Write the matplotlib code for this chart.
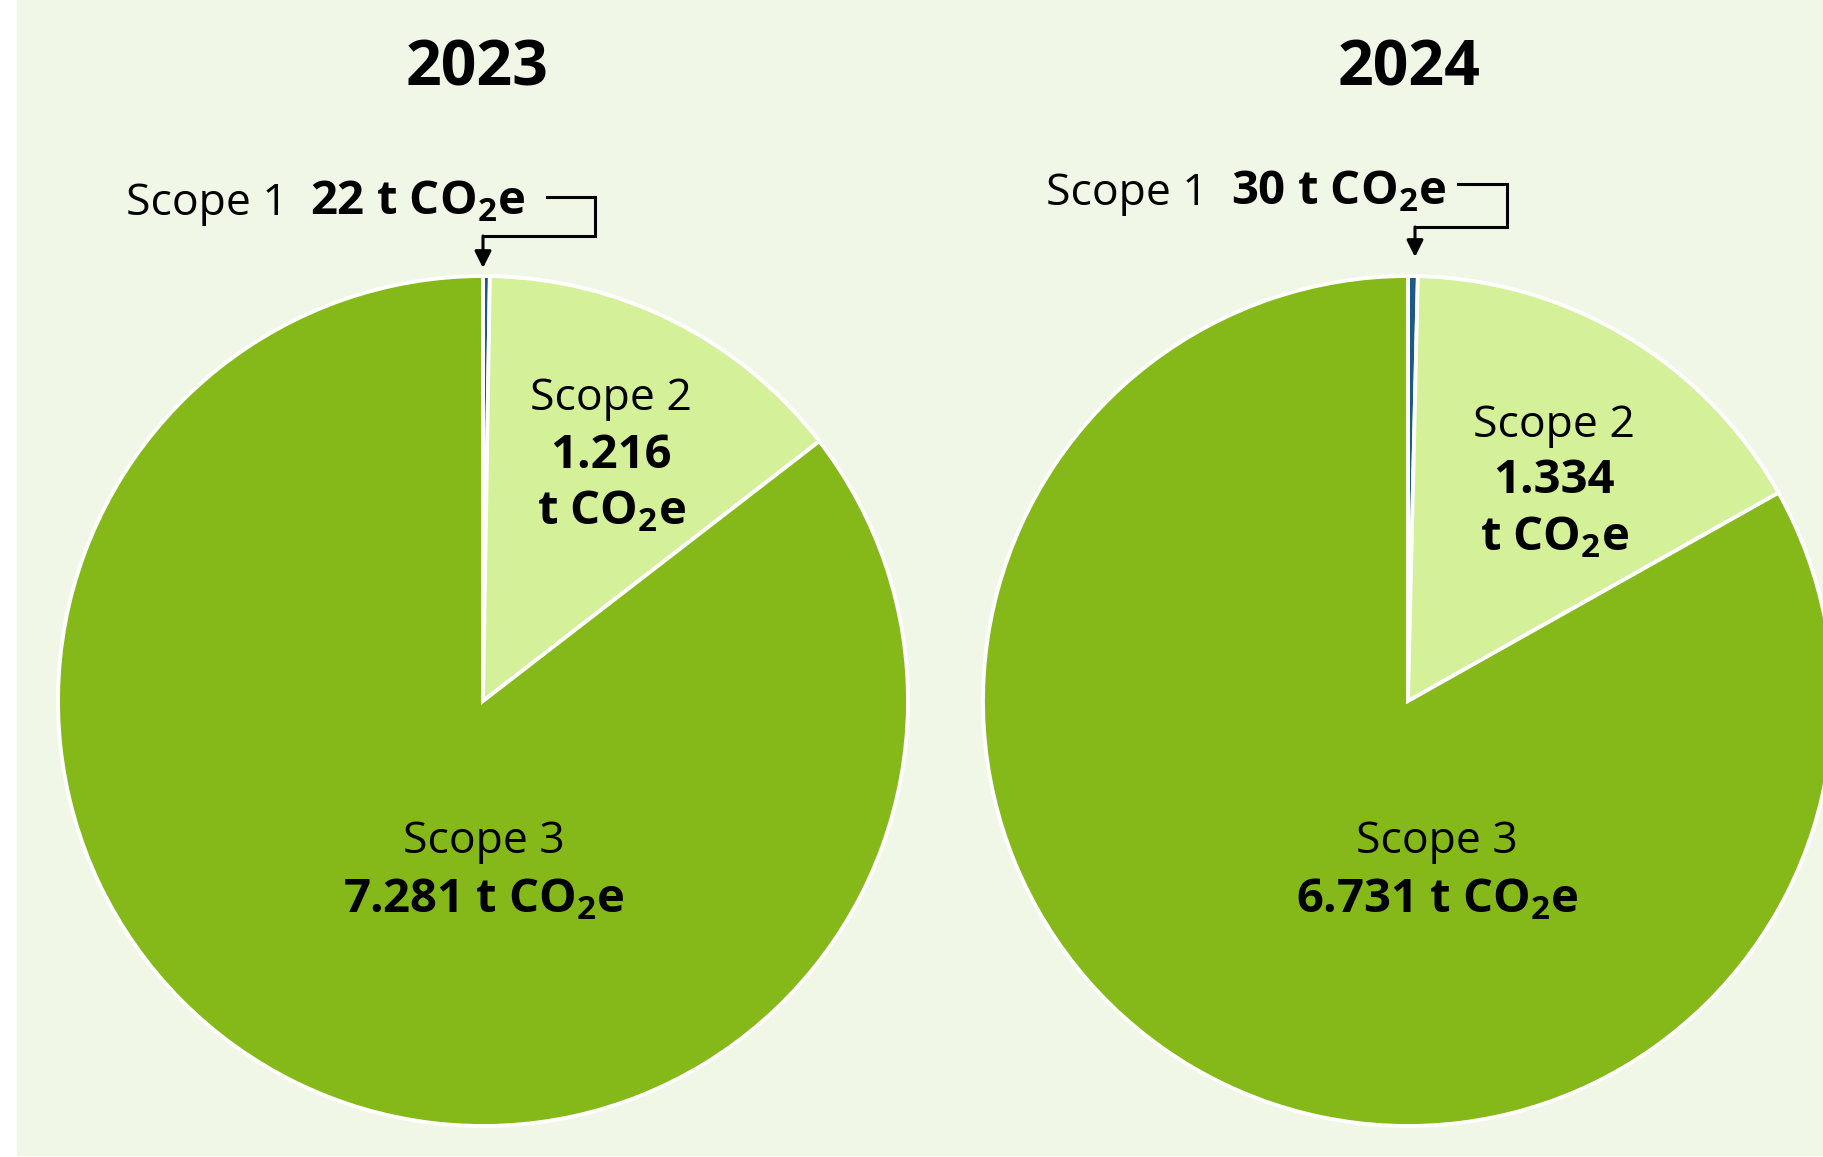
import numpy as np
import matplotlib
matplotlib.use('Agg')
import matplotlib.pyplot as plt
from matplotlib.patches import Rectangle

plt.rcParams['font.family'] = ['Open Sans', 'DejaVu Sans']
plt.rcParams['mathtext.fontset'] = 'custom'
plt.rcParams['mathtext.rm'] = 'Open Sans'
plt.rcParams['mathtext.bf'] = 'Open Sans:bold'

# data
years = ['2023', '2024']
scopes = ['Scope 1', 'Scope 2', 'Scope 3']
values_2023 = [22, 1216, 7281]
values_2024 = [30, 1334, 6731]
labels_2023 = ['22', '1.216', '7.281']
labels_2024 = ['30', '1.334', '6.731']

colors = ['#1B5A84', '#D4F098', '#85B819']
bg = '#F0F7E7'

W, H = 1823, 1157
fig = plt.figure(figsize=(W / 100, H / 100), dpi=100)
fig.patch.set_facecolor('white')
ax = fig.add_axes([0, 0, 1, 1])

def Y(y):
    # image pixel row -> axes y
    return H - y

ax.add_patch(Rectangle((17, Y(1155)), W - 17, 1155, color=bg, zorder=0))

# layout per pie: center x, title x, scope2 pos, scope3 pos, scope1 text, connector
layout = [
    dict(cx=483, tx=477, s2x=611, s2y=[410, 468, 525], s3x=484,
         s1_right=288, s1_left=310, s1_base=215,
         path=[(547, 197), (595, 197), (595, 236), (483, 236)], tip=268),
    dict(cx=1408, tx=1409, s2x=1554, s2y=[437, 493, 550], s3x=1437,
         s1_right=1208, s1_left=1231, s1_base=205,
         path=[(1458, 184), (1507, 184), (1507, 227), (1415, 227)], tip=257),
]

co2 = r't CO$_\mathbf{2}$e'
fs = 32
fsb = 34

for year, vals, labs, L in zip(years, [values_2023, values_2024],
                               [labels_2023, labels_2024], layout):
    ax.pie(vals, colors=colors, startangle=90, counterclock=False,
           center=(L['cx'], Y(701)), radius=425,
           wedgeprops=dict(edgecolor='white', linewidth=2.8))
    ax.text(L['tx'], Y(85), year, ha='center', va='baseline',
            fontsize=45, fontweight='bold')

    # scope 2
    ax.text(L['s2x'], Y(L['s2y'][0]), scopes[1], ha='center', va='baseline', fontsize=fs)
    ax.text(L['s2x'], Y(L['s2y'][1]), labs[1], ha='center', va='baseline',
            fontsize=fsb, fontweight='bold')
    ax.text(L['s2x'], Y(L['s2y'][2]), co2, ha='center', va='baseline',
            fontsize=fsb, fontweight='bold')

    # scope 3
    ax.text(L['s3x'], Y(853), scopes[2], ha='center', va='baseline', fontsize=fs)
    ax.text(L['s3x'], Y(912), labs[2] + ' ' + co2, ha='center', va='baseline',
            fontsize=fsb, fontweight='bold')

    # scope 1
    ax.text(L['s1_right'], Y(L['s1_base']), scopes[0], ha='right', va='baseline', fontsize=fs)
    ax.text(L['s1_left'], Y(L['s1_base']), labs[0] + ' ' + co2, ha='left',
            va='baseline', fontsize=fsb, fontweight='bold')

    px = [p[0] for p in L['path']]
    py = [Y(p[1]) for p in L['path']]
    ax.plot(px, py, color='black', lw=2.2, solid_joinstyle='miter')
    ax.annotate('', xy=(px[-1], Y(L['tip'])), xytext=(px[-1], py[-1]),
                arrowprops=dict(arrowstyle='-|>,head_length=1.0,head_width=0.5',
                                color='black', lw=2.2, shrinkA=0, shrinkB=0))

ax.set_xlim(0, W)
ax.set_ylim(0, H)
ax.set_aspect('auto')
ax.axis('off')

fig.savefig('out.png', dpi=100, facecolor='white')
